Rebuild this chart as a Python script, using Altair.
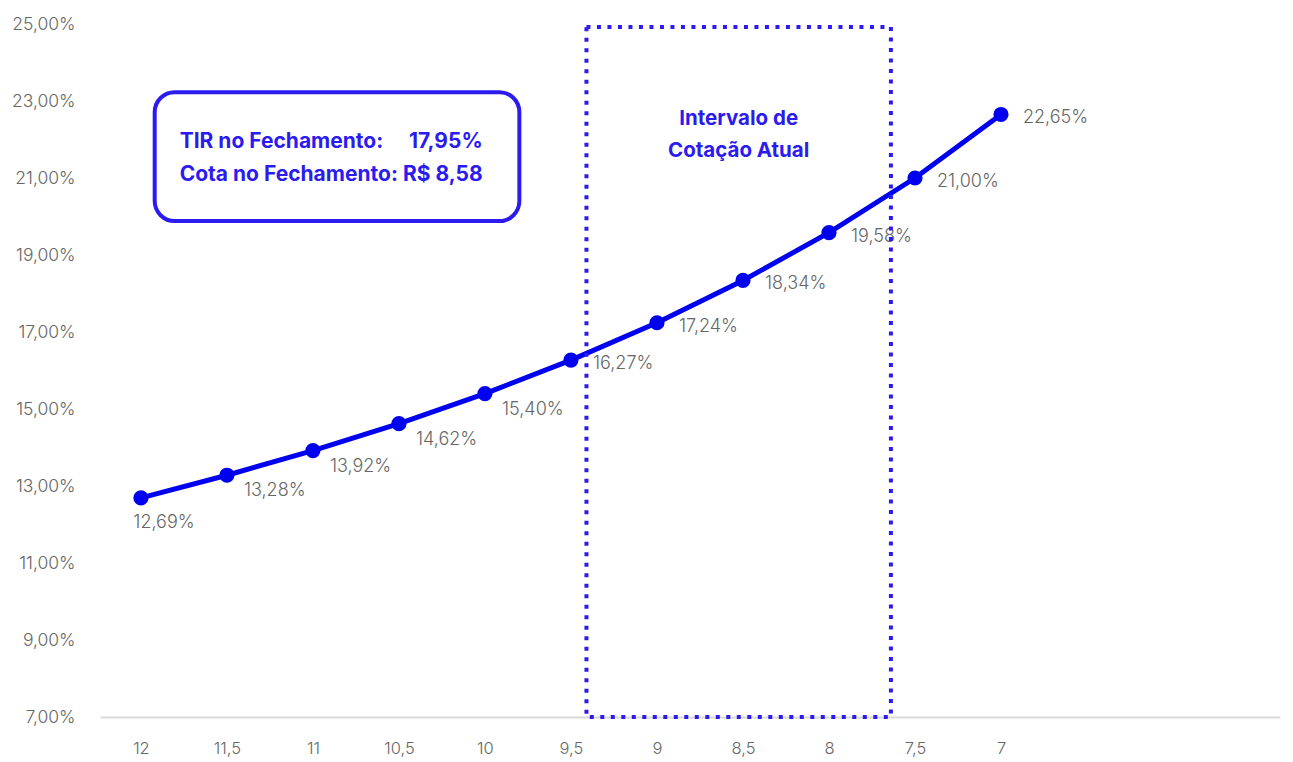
import altair as alt
import pandas as pd

# ---- data ----
cotas = [12, 11.5, 11, 10.5, 10, 9.5, 9, 8.5, 8, 7.5, 7]
tir = [12.69, 13.28, 13.92, 14.62, 15.40, 16.27, 17.24, 18.34, 19.58, 21.00, 22.65]
tir_labels = ["12,69%", "13,28%", "13,92%", "14,62%", "15,40%", "16,27%",
              "17,24%", "18,34%", "19,58%", "21,00%", "22,65%"]
x_ticks = [12, 11.5, 11, 10.5, 10, 9.5, 9, 8.5, 8, 7.5, 7]
y_ticks = [7, 9, 11, 13, 15, 17, 19, 21, 23, 25]

# annotation extents (data units)
interval_x = [9.41, 7.64]
interval_y = [7.0, 24.92]
interval_text = ["Intervalo de", "Cotação Atual"]
interval_text_y = [22.53, 21.70]
box_x = [11.92, 9.80]
box_y = [23.23, 19.88]
box_text_left = ["TIR no Fechamento:", "Cota no Fechamento: R$ 8,58"]
box_text_right = ["17,95%"]
box_text_y = [21.935, 21.078]

df = pd.DataFrame({"cota": cotas, "tir": tir, "label": tir_labels,
                   "idx": list(range(len(cotas)))})

LINE = "#0000f0"
ANN = "#2b1bf0"
GRAY = "#666666"
FONT = "Inter"

xscale = alt.Scale(domain=[5.378, 12.238], reverse=True, nice=False, zero=False)
yscale = alt.Scale(domain=[7, 25], nice=False, zero=False)

x_enc = alt.X("cota:Q", scale=xscale, title=None,
              axis=alt.Axis(values=x_ticks, format="~g",
                            labelExpr="replace(datum.label, '.', ',')",
                            grid=False, ticks=False, domain=True, domainColor="#d9d9d9",
                            domainWidth=2, labelColor=GRAY, labelFontSize=16.5, labelFont=FONT,
                            labelPadding=23, labelFontWeight=300))
y_enc = alt.Y("tir:Q", scale=yscale, title=None,
              axis=alt.Axis(values=y_ticks, labelExpr="replace(format(datum.value, '.2f'), '.', ',') + '%'",
                            grid=False, ticks=False, domain=False, labelColor=GRAY,
                            labelFontSize=17.5, labelFont=FONT, labelPadding=25,
                            labelFontWeight=300))

base = alt.Chart(df)

line = base.mark_line(color=LINE, strokeWidth=5).encode(x=x_enc, y=y_enc)
points = base.mark_point(filled=True, color=LINE, size=230, opacity=1).encode(x="cota:Q", y="tir:Q")

lab_common = dict(color=GRAY, fontSize=18, font=FONT, fontWeight=300)
lab_a = base.transform_filter("datum.idx == 0").mark_text(
    align="center", baseline="middle", dx=23, dy=25, **lab_common).encode(
    x="cota:Q", y="tir:Q", text="label:N")
lab_b = base.transform_filter("datum.idx >= 1 && datum.idx <= 4").mark_text(
    align="left", baseline="middle", dx=17, dy=16, **lab_common).encode(
    x="cota:Q", y="tir:Q", text="label:N")
lab_c = base.transform_filter("datum.idx >= 5").mark_text(
    align="left", baseline="middle", dx=22, dy=4, **lab_common).encode(
    x="cota:Q", y="tir:Q", text="label:N")

# dotted interval rectangle
rect_df = pd.DataFrame({"x1": [interval_x[0]], "x2": [interval_x[1]],
                        "y1": [interval_y[0]], "y2": [interval_y[1]]})
interval = alt.Chart(rect_df).mark_rect(
    fill=None, fillOpacity=0, stroke=ANN, strokeWidth=4, strokeDash=[4, 6.5]).encode(
    x="x1:Q", x2="x2:Q", y="y1:Q", y2="y2:Q")

itext_df = pd.DataFrame({"x": [(interval_x[0] + interval_x[1]) / 2] * 2,
                         "y": interval_text_y, "t": interval_text})
itext = alt.Chart(itext_df).mark_text(
    color=ANN, fontSize=20.5, font=FONT, fontWeight="bold", align="center", baseline="middle").encode(
    x="x:Q", y="y:Q", text="t:N")

# rounded summary box
box_df = pd.DataFrame({"x1": [box_x[0]], "x2": [box_x[1]], "y1": [box_y[0]], "y2": [box_y[1]]})
box = alt.Chart(box_df).mark_rect(
    fill="white", stroke=ANN, strokeWidth=4, cornerRadius=20).encode(
    x="x1:Q", x2="x2:Q", y="y1:Q", y2="y2:Q")

btext_df = pd.DataFrame({"x": [box_x[0] - 0.145] * 2, "y": box_text_y, "t": box_text_left})
btext = alt.Chart(btext_df).mark_text(
    color=ANN, fontSize=21, font=FONT, fontWeight="bold", align="left", baseline="middle").encode(
    x="x:Q", y="y:Q", text="t:N")
btext2_df = pd.DataFrame({"x": [10.442], "y": [box_text_y[0]], "t": box_text_right})
btext2 = alt.Chart(btext2_df).mark_text(
    color=ANN, fontSize=21, font=FONT, fontWeight="bold", align="left", baseline="middle").encode(
    x="x:Q", y="y:Q", text="t:N")

chart = alt.layer(line, points, lab_a, lab_b, lab_c, interval, itext, box, btext, btext2).properties(
    width=1180, height=693,
    autosize=alt.AutoSizeParams(type="none"),
    padding={"left": 92, "top": 16, "right": 5, "bottom": 40},
    background="white",
).configure_view(stroke=None, strokeWidth=0)

chart.save("out.html", embed_options={"renderer": "svg", "actions": False})
